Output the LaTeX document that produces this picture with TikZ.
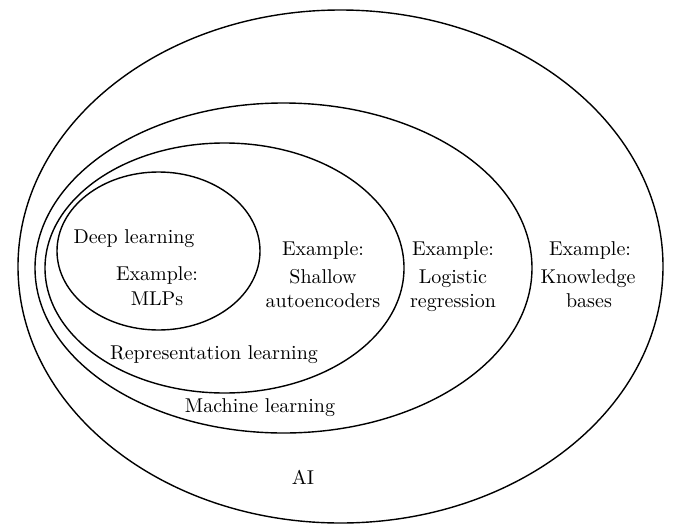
\documentclass[tikz,border=0pt]{standalone}
\begin{document}
\begin{tikzpicture}[x=0.5pt,y=-0.5pt,
  ring/.style={line width=0.7pt},
  lbl/.style={align=center,inner sep=0pt,font=\normalsize,text height=6.8pt,text depth=1.9pt}]
\useasboundingbox (0,0) rectangle (680,525);
% ellipses
\draw[ring] (340.5,266.5) ellipse [x radius=161.25pt, y radius=128.25pt];
\draw[ring] (283.5,268) ellipse [x radius=124.25pt, y radius=82.5pt];
\draw[ring] (224.5,268) ellipse [x radius=89.75pt, y radius=62.5pt];
\draw[ring] (158.5,251) ellipse [x radius=50.75pt, y radius=39.5pt];
% labels
\node[lbl] (dl) at (134,239) {Deep learning};
\node[lbl] (mlp) at (157,276) {Example:};
\node[lbl] (mlp2) at (157,301) {MLPs};
\node[lbl] (rl) at (214,355) {Representation learning};
\node[lbl] (ml) at (260,408) {Machine learning};
\node[lbl] (ai) at (303,480) {AI};
\node[lbl] (sa1) at (323,251) {Example:};
\node[lbl] (sa2) at (323,279) {Shallow};
\node[lbl] (sa3) at (323,303) {autoencoders};
\node[lbl] (lr1) at (453,251) {Example:};
\node[lbl] (lr2) at (453,279) {Logistic};
\node[lbl] (lr3) at (453,303) {regression};
\node[lbl] (kb1) at (590,251) {Example:};
\node[lbl] (kb2) at (588,279) {Knowledge};
\node[lbl] (kb3) at (589,303) {bases};
\end{tikzpicture}
\end{document}
